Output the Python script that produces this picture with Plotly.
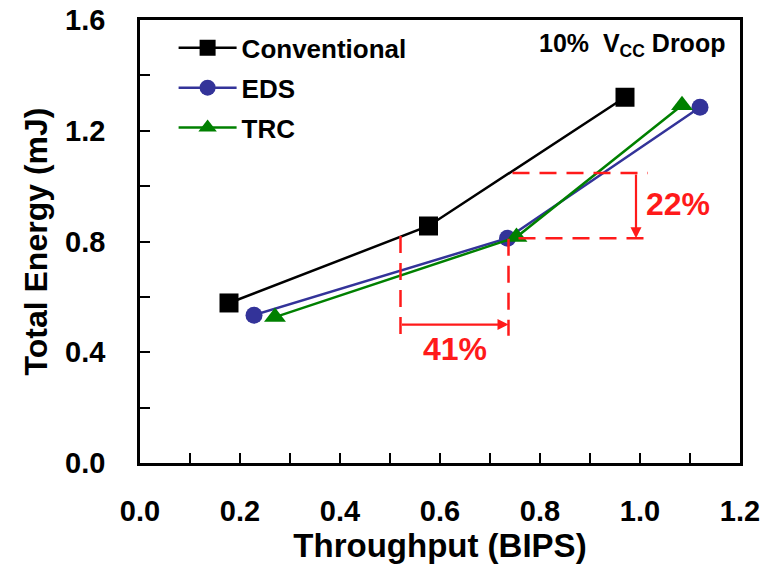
import plotly.graph_objects as go

# Data
conv_x = [0.178, 0.577, 0.970]
conv_y = [0.578, 0.856, 1.321]
eds_x = [0.228, 0.735, 1.120]
eds_y = [0.534, 0.812, 1.285]
trc_x = [0.270, 0.753, 1.084]
trc_y = [0.527, 0.816, 1.292]

# Annotation values (data units)
energy_hi = 1.047
energy_lo = 0.812
energy_line_hi_x = [0.745, 1.016]
energy_line_lo_x = [0.757, 1.016]
energy_arrow_x = 0.992
tp_left = 0.521
tp_right = 0.737
tp_top_left = 0.82
tp_top_right = 0.81
tp_bottom = 0.46
tp_arrow_y = 0.50
label_22_pos = (1.008, 0.935)
label_41_pos = (0.629, 0.41)

FONT = "Arial, Liberation Sans, sans-serif"
RED = "#ff1a1a"

fig = go.Figure()
fig.add_trace(go.Scatter(x=conv_x, y=conv_y, name="Conventional", mode="lines+markers",
                         legendgroup="a",
                         line=dict(color="black", width=2.5),
                         marker=dict(symbol="square", size=19, color="black")))
fig.add_trace(go.Scatter(x=eds_x, y=eds_y, name="EDS", mode="lines+markers",
                         legendgroup="b",
                         line=dict(color="#333399", width=2.5),
                         marker=dict(symbol="circle", size=17, color="#333399")))
fig.add_trace(go.Scatter(x=trc_x, y=trc_y, name="TRC", mode="lines+markers",
                         legendgroup="c",
                         line=dict(color="#008000", width=2.5),
                         marker=dict(symbol="triangle-up", size=19, color="#008000")))

dash = "17px,10px"
fig.add_shape(type="line", x0=energy_line_hi_x[0], x1=energy_line_hi_x[1], y0=energy_hi, y1=energy_hi,
              line=dict(color=RED, width=2.5, dash=dash))
fig.add_shape(type="line", x0=energy_line_lo_x[0], x1=energy_line_lo_x[1], y0=energy_lo, y1=energy_lo,
              line=dict(color=RED, width=2.5, dash=dash))
fig.add_shape(type="line", x0=tp_left, x1=tp_left, y0=tp_top_left, y1=tp_bottom,
              line=dict(color=RED, width=2.5, dash=dash))
fig.add_shape(type="line", x0=tp_right, x1=tp_right, y0=tp_top_right, y1=tp_bottom,
              line=dict(color=RED, width=2.5, dash=dash))

fig.add_annotation(x=energy_arrow_x, y=energy_lo, ax=energy_arrow_x, ay=energy_hi,
                   xref="x", yref="y", axref="x", ayref="y", text="", showarrow=True,
                   arrowhead=2, arrowsize=1, arrowwidth=2.2, arrowcolor=RED)
fig.add_annotation(x=tp_right, y=tp_arrow_y, ax=tp_left, ay=tp_arrow_y,
                   xref="x", yref="y", axref="x", ayref="y", text="", showarrow=True,
                   arrowhead=2, arrowsize=1, arrowwidth=2.2, arrowcolor=RED)

fig.add_annotation(x=label_22_pos[0], y=label_22_pos[1], xref="x", yref="y", text="22%",
                   showarrow=False, xanchor="left", yanchor="middle",
                   font=dict(family=FONT, size=32, color=RED, weight="bold"))
fig.add_annotation(x=label_41_pos[0], y=label_41_pos[1], xref="x", yref="y", text="41%",
                   showarrow=False, xanchor="center", yanchor="middle",
                   font=dict(family=FONT, size=32, color=RED, weight="bold"))

fig.add_annotation(x=0.978, y=0.985, xref="paper", yref="paper",
                   text="10%  V<sub>CC</sub> Droop", showarrow=False,
                   xanchor="right", yanchor="top",
                   font=dict(family=FONT, size=25, color="black", weight="bold"))

axis_common = dict(showline=True, linecolor="black", linewidth=2.5, mirror=True,
                   ticks="inside", ticklen=10, tickwidth=2, tickcolor="black",
                   showgrid=False, zeroline=False, ticklabeloverflow="allow",
                   automargin=False,
                   tickfont=dict(family=FONT, size=29, color="black", weight="bold"))

fig.update_xaxes(range=[0, 1.2], dtick=0.2, tick0=0, tickformat=".1f",
                 ticklabelstandoff=20,
                 minor=dict(dtick=0.1, ticks="inside", ticklen=10, tickwidth=2, tickcolor="black"),
                 title=dict(text="Throughput (BIPS)", standoff=9,
                            font=dict(family=FONT, size=33, color="black", weight="bold")),
                 **axis_common)
fig.update_yaxes(range=[0, 1.6], dtick=0.4, tick0=0, tickformat=".1f",
                 ticklabelstandoff=26,
                 minor=dict(dtick=0.2, ticks="inside", ticklen=10, tickwidth=2, tickcolor="black"),
                 title=dict(text="Total Energy (mJ)", standoff=8,
                            font=dict(family=FONT, size=32, color="black", weight="bold")),
                 **axis_common)

fig.update_layout(width=766, height=574,
                  margin=dict(l=140, r=26, t=20, b=111),
                  paper_bgcolor="white", plot_bgcolor="white",
                  legend=dict(x=0.056, y=0.99, xanchor="left", yanchor="top",
                              bgcolor="rgba(0,0,0,0)", tracegroupgap=3,
                              font=dict(family=FONT, size=26, color="black", weight="bold"),
                              itemwidth=58))

fig.write_html("out.html", config={"displayModeBar": False},
               post_script="document.body.style.margin='0';document.body.style.overflow='hidden';")
